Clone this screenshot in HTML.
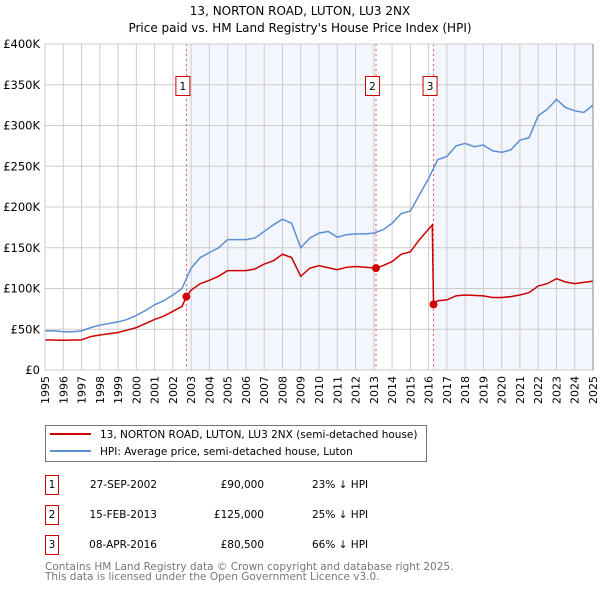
<!DOCTYPE html>
<html><head><meta charset="utf-8"><style>
body{margin:0;background:#fff;font-family:"DejaVu Sans","Liberation Sans",sans-serif;}
svg text{font-family:"DejaVu Sans","Liberation Sans",sans-serif;}
</style></head><body>
<svg width="600" height="590" viewBox="0 0 600 590">
<text x="300" y="15" font-size="12" text-anchor="middle">13, NORTON ROAD, LUTON, LU3 2NX</text>
<text x="300" y="32" font-size="12" text-anchor="middle">Price paid vs. HM Land Registry's House Price Index (HPI)</text>
<g id="plot"></g>
<g>
<rect x="45.5" y="425.5" width="381" height="36" fill="#fff" stroke="#777"/>
<line x1="50" y1="434" x2="91" y2="434" stroke="#cc0000" stroke-width="2"/>
<text x="100" y="438" font-size="10.5">13, NORTON ROAD, LUTON, LU3 2NX (semi-detached house)</text>
<line x1="50" y1="451" x2="91" y2="451" stroke="#5b8fd4" stroke-width="2"/>
<text x="100" y="455" font-size="10.5">HPI: Average price, semi-detached house, Luton</text>
</g>
<g font-size="10.5">
<rect x="45.5" y="475.5" width="13" height="19" fill="#fff" stroke="#cc0000"/>
<text x="52" y="488" text-anchor="middle">1</text>
<text x="157" y="488" text-anchor="end">27-SEP-2002</text>
<text x="264" y="488" text-anchor="end">£90,000</text>
<text x="312" y="488">23% ↓ HPI</text>
<rect x="45.5" y="505.5" width="13" height="19" fill="#fff" stroke="#cc0000"/>
<text x="52" y="518" text-anchor="middle">2</text>
<text x="157" y="518" text-anchor="end">15-FEB-2013</text>
<text x="264" y="518" text-anchor="end">£125,000</text>
<text x="312" y="518">25% ↓ HPI</text>
<rect x="45.5" y="535.5" width="13" height="19" fill="#fff" stroke="#cc0000"/>
<text x="52" y="548" text-anchor="middle">3</text>
<text x="157" y="548" text-anchor="end">08-APR-2016</text>
<text x="264" y="548" text-anchor="end">£80,500</text>
<text x="312" y="548">66% ↓ HPI</text>
</g>
<text x="45" y="570" font-size="10.5" fill="#777">Contains HM Land Registry data © Crown copyright and database right 2025.</text>
<text x="45" y="580" font-size="10.5" fill="#777">This data is licensed under the Open Government Licence v3.0.</text>
</svg>
<script>
const hpiYears=[1995,1995.5,1996,1996.5,1997,1997.5,1998,1998.5,1999,1999.5,2000,2000.5,2001,2001.5,2002,2002.5,2003,2003.5,2004,2004.5,2005,2005.5,2006,2006.5,2007,2007.5,2008,2008.5,2009,2009.5,2010,2010.5,2011,2011.5,2012,2012.5,2013,2013.5,2014,2014.5,2015,2015.5,2016,2016.5,2017,2017.5,2018,2018.5,2019,2019.5,2020,2020.5,2021,2021.5,2022,2022.5,2023,2023.5,2024,2024.5,2025];
const hpiValues=[48,48,47,47,48,52,55,57,59,62,67,73,80,85,92,100,125,138,144,150,160,160,160,162,170,178,185,180,150,162,168,170,163,166,167,167,168,172,180,192,195,215,235,258,262,275,278,274,276,269,267,270,282,285,312,320,332,322,318,316,325];
const propYears=[1995,1996,1997,1997.5,1998,1999,2000,2000.5,2001,2001.5,2002,2002.5,2002.74,2003,2003.5,2004,2004.5,2005,2006,2006.5,2007,2007.5,2008,2008.5,2009,2009.5,2010,2011,2011.5,2012,2013.12,2013.5,2014,2014.5,2015,2015.5,2016.2,2016.27,2016.5,2017,2017.5,2018,2019,2019.5,2020,2020.5,2021,2021.5,2022,2022.5,2023,2023.5,2024,2025];
const propValues=[37,36.5,37,41,43,46,52,57,62,66,72,78,90,98,106,110,115,122,122,124,130,134,142,138,115,125,128,123,126,127,125,128,133,142,145,160,178,80.5,85,86,91,92,91,89,89,90,92,95,103,106,112,108,106,109];
const saleYears=[2002.74,2013.12,2016.27];
const salePrices=[90,125,80.5];
const saleLabels=["1","2","3"];
const yTicks=[0,50,100,150,200,250,300,350,400];
const yTickLabels=["£0","£50K","£100K","£150K","£200K","£250K","£300K","£350K","£400K"];
const xTicks=[1995,1996,1997,1998,1999,2000,2001,2002,2003,2004,2005,2006,2007,2008,2009,2010,2011,2012,2013,2014,2015,2016,2017,2018,2019,2020,2021,2022,2023,2024,2025];

const X0=45,X1=593,Y0=370,Y1=44;
const xs=y=>X0+(y-1995)/30*(X1-X0);
const ys=v=>Y0-v/400*(Y0-Y1);
const NS='http://www.w3.org/2000/svg';
const plot=document.getElementById('plot');
function mk(tag,attrs,parent){const e=document.createElementNS(NS,tag);for(const k in attrs)e.setAttribute(k,attrs[k]);(parent||plot).appendChild(e);return e;}
const s1=mk('rect',{x:xs(saleYears[0]),y:Y1,width:xs(saleYears[1])-xs(saleYears[0]),height:Y0-Y1,fill:'#f3f6fd'});


const s2=mk('rect',{x:xs(saleYears[2]),y:Y1,width:X1-xs(saleYears[2]),height:Y0-Y1,fill:'#f3f6fd'});


xTicks.forEach((t,i)=>{
  const l=mk('line',{x1:xs(t),x2:xs(t),y1:Y1,y2:Y0,stroke:'#cccccc','stroke-width':1});
  
  
  const tx=mk('text',{x:0,y:0,'font-size':11,'text-anchor':'end',transform:`translate(${xs(t)+4},376) rotate(-90)`});
  tx.textContent=t;
  
  
});
yTicks.forEach((t,i)=>{
  const l=mk('line',{x1:X0,x2:X1,y1:ys(t),y2:ys(t),stroke:'#cccccc','stroke-width':1});
  
  
  const tx=mk('text',{x:40,y:ys(t)+4,'font-size':11.5,'text-anchor':'end'});
  tx.textContent=yTickLabels[i];
  
  
});
saleYears.forEach((y,i)=>{
  const l=mk('line',{x1:xs(y),x2:xs(y),y1:Y1,y2:Y0,stroke:'#ee5555','stroke-width':1,'stroke-dasharray':'2,3'});
  
  
  const bx=xs(y)-10.5;
  const r=mk('rect',{x:bx,y:76.5,width:14,height:19,fill:'#fff',stroke:'#cc0000'});
  
  
  const t=mk('text',{x:bx+7,y:90,'font-size':10.5,'text-anchor':'middle'});
  t.textContent=saleLabels[i];
  
  
});
const hp=mk('polyline',{points:hpiYears.map((y,i)=>xs(y)+','+ys(hpiValues[i])).join(' '),fill:'none',stroke:'#5b8fd4','stroke-width':1.5});


const pp=mk('polyline',{points:propYears.map((y,i)=>xs(y)+','+ys(propValues[i])).join(' '),fill:'none',stroke:'#cc0000','stroke-width':1.5});


saleYears.forEach((y,i)=>{
  const c=mk('circle',{cx:xs(y),cy:ys(salePrices[i]),r:4,fill:'#cc0000'});
  
  
});
const ax=mk('rect',{x:X0,y:Y1,width:X1-X0,height:Y0-Y1,fill:'none',stroke:'#cccccc'});


const rx=mk('line',{x1:X1,x2:X1,y1:Y1,y2:Y0,stroke:'#888888','stroke-width':1});


</script>
</body></html>
